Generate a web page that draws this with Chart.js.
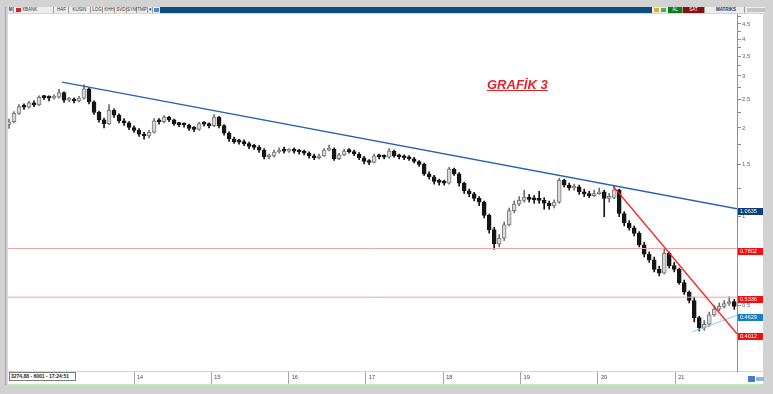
<html>
<head>
<style>
  html, body { margin: 0; width: 773px; height: 394px; overflow: hidden; background: #d2d2d2; font-family: "Liberation Sans", Arial, sans-serif; }
  .abs { position: absolute; }
  #panel { left: 7px; top: 13px; width: 757px; height: 372px; background: #fff; border: 1px solid #bfe8b8; box-sizing: border-box; }
  #head { left: 8px; top: 7px; width: 757px; height: 6px; background: #ececec; }
  .hb { position: absolute; top: 0; height: 6px; font-size: 4.5px; line-height: 6px; color: #333; border-right: 1px solid #9a9a9a; text-align: center; box-sizing: border-box; }
  #title { left: 487px; top: 77px; color: #e4232b; font: italic bold 13px "Liberation Sans", Arial, sans-serif; text-decoration: underline; z-index: 3; }
  #info { left: 9px; top: 372px; width: 67px; height: 9px; border: 1px solid #7a7a7a; box-sizing: border-box; font: bold 5px "Liberation Sans", Arial, sans-serif; line-height: 7px; padding-left: 1px; color: #222; z-index: 3; background: #fff; }
  canvas { position: absolute; left: 0; top: 0; z-index: 2; }
</style>
</head>
<body>
<div class="abs" style="left:5px;top:7px;width:1px;height:378px;background:#a8a8a8"></div>
<div id="panel" class="abs"></div>
<div class="abs" style="left:7px;top:371px;width:757px;height:1px;background:#bfe8b8"></div>
<div id="head" class="abs">
  <span class="hb" style="left:0;width:6px;color:#1b3f9a;font-weight:bold">M</span>
  <span class="hb" style="left:7px;width:39px;text-align:left;padding-left:7px">XBANK</span>
  <span class="abs" style="left:8px;top:1px;width:5px;height:4px;background:#d0202a"></span>
  <span class="hb" style="left:47px;width:14px">HAF</span>
  <span class="hb" style="left:61px;width:22px">KUSIN</span>
  <span class="hb" style="left:84px;width:11px">LOG</span>
  <span class="hb" style="left:96px;width:11px">KHH</span>
  <span class="hb" style="left:108px;width:11px">SVD</span>
  <span class="hb" style="left:119px;width:10px">SYM</span>
  <span class="hb" style="left:129px;width:11px">TMP</span>
  <span class="hb" style="left:140px;width:5px">▾</span>
  <span class="abs" style="left:146px;top:1px;width:5px;height:4px;background:#3a8fd6"></span>
  <span class="abs" style="left:152px;top:0;width:492px;height:6px;background:#0c4d83"></span>
  <span class="abs" style="left:646px;top:1px;width:5px;height:4px;background:#e0b020"></span>
  <span class="abs" style="left:653px;top:1px;width:5px;height:4px;background:#4caf50"></span>
  <span class="hb" style="left:660px;width:15px;background:#0e7a22;color:#fff">AL</span>
  <span class="hb" style="left:675px;width:22px;background:#8c0f0f;color:#fff">SAT</span>
  <span class="hb" style="left:700px;width:37px;color:#1c2f6e;font-weight:bold">MATRIKS</span>
  <span class="abs" style="left:739px;top:1px;width:18px;height:4px;background:#c4c4c4"></span>
</div>
<div id="title" class="abs">GRAFİK 3</div>
<div id="info" class="abs">3274,88 - 6001 - 17:24:51</div>
<div class="abs" style="left:748px;top:376px;width:7px;height:6px;background:#3d7fc8;z-index:3"></div>
<div class="abs" style="left:756px;top:377px;width:8px;height:4px;background:#8fb4e0;z-index:3"></div>

<canvas id="c" width="773" height="394"></canvas>

<script src="https://cdn.jsdelivr.net/npm/chart.js@4/dist/chart.umd.min.js"></script>
<script>
  // candle periods, from 2012 to late 2021 (decimal years)
  const firstPeriod = 12.383;
  const periodLength = 0.0647;
  const firstOpen = 2.05;

  const closes = [
    2.097, 2.240, 2.359, 2.352, 2.430, 2.394, 2.540, 2.532, 2.521, 2.540,
    2.635, 2.484, 2.503, 2.466, 2.521, 2.714, 2.448, 2.257, 2.128, 2.066,
    2.291, 2.208, 2.112, 2.081, 2.006, 1.962, 1.905, 1.877, 1.933, 2.112,
    2.097, 2.175, 2.128, 2.066, 2.051, 2.045, 1.991, 1.976, 2.066, 2.060,
    2.036, 2.175, 2.036, 1.919, 1.836, 1.796, 1.790, 1.769, 1.730, 1.718,
    1.680, 1.596, 1.607, 1.656, 1.680, 1.668, 1.680, 1.668, 1.656, 1.643,
    1.607, 1.584, 1.607, 1.680, 1.693, 1.572, 1.619, 1.668, 1.662, 1.631,
    1.584, 1.538, 1.526, 1.607, 1.596, 1.590, 1.668, 1.607, 1.596, 1.584,
    1.572, 1.538, 1.504, 1.397, 1.366, 1.317, 1.307, 1.300, 1.450, 1.397,
    1.298, 1.223, 1.196, 1.153, 1.120, 1.010, 0.904, 0.809, 0.846, 0.938,
    1.048, 1.103, 1.136, 1.162, 1.145, 1.140, 1.136, 1.111, 1.087, 1.120,
    1.327, 1.279, 1.251, 1.262, 1.214, 1.196, 1.179, 1.196, 1.214, 1.153,
    1.162, 1.232, 1.025, 0.952, 0.917, 0.878, 0.803, 0.746, 0.714, 0.663,
    0.644, 0.752, 0.683, 0.663, 0.598, 0.555, 0.520, 0.455, 0.420, 0.432,
    0.465, 0.486, 0.497, 0.508, 0.516, 0.497
  ];
  const highs = [
    2.14, 2.27, 2.40, 2.41, 2.46, 2.47, 2.57, 2.58, 2.57, 2.59,
    2.70, 2.65, 2.54, 2.53, 2.56, 2.80, 2.74, 2.47, 2.28, 2.16,
    2.40, 2.32, 2.23, 2.15, 2.10, 2.03, 1.99, 1.93, 1.96, 2.15,
    2.15, 2.20, 2.19, 2.14, 2.09, 2.08, 2.06, 2.02, 2.09, 2.10,
    2.08, 2.22, 2.19, 2.05, 1.94, 1.86, 1.83, 1.82, 1.79, 1.76,
    1.74, 1.70, 1.63, 1.68, 1.71, 1.72, 1.70, 1.71, 1.69, 1.68,
    1.66, 1.63, 1.63, 1.70, 1.75, 1.71, 1.64, 1.69, 1.70, 1.68,
    1.65, 1.60, 1.56, 1.63, 1.63, 1.62, 1.70, 1.68, 1.63, 1.62,
    1.61, 1.59, 1.55, 1.52, 1.42, 1.38, 1.34, 1.33, 1.47, 1.46,
    1.41, 1.31, 1.24, 1.21, 1.17, 1.13, 1.02, 0.92, 0.87, 0.96,
    1.07, 1.13, 1.17, 1.23, 1.19, 1.18, 1.22, 1.16, 1.13, 1.14,
    1.35, 1.34, 1.30, 1.29, 1.28, 1.24, 1.22, 1.23, 1.25, 1.23,
    1.20, 1.27, 1.24, 1.04, 0.97, 0.93, 0.89, 0.82, 0.76, 0.73,
    0.68, 0.78, 0.76, 0.70, 0.67, 0.61, 0.56, 0.534, 0.46, 0.445,
    0.475, 0.50, 0.51, 0.52, 0.535, 0.525
  ];
  const lows = [
    1.99, 2.08, 2.22, 2.31, 2.33, 2.36, 2.38, 2.49, 2.47, 2.50,
    2.52, 2.44, 2.45, 2.43, 2.45, 2.50, 2.41, 2.22, 2.09, 2.00,
    2.05, 2.17, 2.08, 2.04, 1.97, 1.93, 1.87, 1.83, 1.85, 1.92,
    2.06, 2.08, 2.10, 2.04, 2.02, 2.01, 1.96, 1.94, 1.96, 2.03,
    2.00, 2.02, 2.00, 1.89, 1.80, 1.77, 1.76, 1.74, 1.70, 1.69,
    1.65, 1.57, 1.57, 1.59, 1.64, 1.64, 1.65, 1.64, 1.63, 1.62,
    1.58, 1.56, 1.57, 1.60, 1.67, 1.55, 1.56, 1.61, 1.64, 1.61,
    1.56, 1.51, 1.50, 1.52, 1.57, 1.57, 1.58, 1.59, 1.57, 1.56,
    1.55, 1.52, 1.48, 1.38, 1.34, 1.29, 1.28, 1.28, 1.29, 1.38,
    1.27, 1.20, 1.17, 1.13, 1.09, 0.99, 0.88, 0.775, 0.79, 0.83,
    0.93, 1.03, 1.09, 1.12, 1.12, 1.11, 1.11, 1.06, 1.06, 1.07,
    1.11, 1.26, 1.23, 1.23, 1.19, 1.17, 1.16, 1.17, 1.19, 1.00,
    1.12, 1.15, 1.00, 0.93, 0.90, 0.86, 0.79, 0.73, 0.70, 0.65,
    0.63, 0.64, 0.67, 0.65, 0.59, 0.545, 0.51, 0.44, 0.41, 0.412,
    0.425, 0.46, 0.48, 0.49, 0.50, 0.485
  ];

  const yearTicks = [14, 15, 16, 17, 18, 19, 20, 21];
  const priceTicks = [0.5, 0.75, 1, 1.25, 1.5, 1.75, 2, 2.25, 2.5, 2.75, 3, 3.25, 3.5, 3.75, 4, 4.25, 4.5, 4.75];
  const priceLabels = [0.5, 1, 1.5, 2, 2.5, 3, 3.5, 4, 4.5];

  // drawn lines: [startYear, startPrice, endPrice]
  const longTrend = [13.069, 2.858, 1.0635];
  const shortTrend = [20.197, 1.269, 0.4012];
  const supportLine = [21.22, 0.407, 0.4629];
  const levels = [0.7802, 0.5336];
  const tagValues = [1.0635, 0.7802, 0.5336, 0.4629, 0.4012];

  const xMin = 12.37, xMax = 21.80;
  const yMin = 0.349, yMax = 4.862;

  const tagColors = ['#0d3f78', '#f01010', '#f01010', '#1580c4', '#f01010'];

  const times = closes.map((c, i) => firstPeriod + i * periodLength);
  const opens = closes.map((c, i) => i === 0 ? firstOpen : closes[i - 1]);
  const isDown = closes.map((c, i) => c < opens[i]);

  const bodies = closes.map((c, i) => ({ x: times[i], y: [opens[i], c] }));
  const wicks = closes.map((c, i) => ({ x: times[i], y: [lows[i], highs[i]] }));

  function segment(start, endX, color, width) {
    return {
      type: 'line',
      data: [{ x: start[0], y: start[1] }, { x: endX, y: start[2] }],
      borderColor: color, borderWidth: width, pointRadius: 0, order: 0
    };
  }

  const tagPlugin = {
    id: 'tags',
    afterDraw(chart) {
      const { ctx, scales: { y }, chartArea } = chart;
      ctx.save();
      tagValues.forEach((v, i) => {
        const py = Math.round(y.getPixelForValue(v));
        ctx.fillStyle = tagColors[i];
        ctx.fillRect(chartArea.right + 1, py - 1, 25, 7);
        ctx.fillStyle = '#fff';
        ctx.font = '5.5px "Liberation Sans", Arial, sans-serif';
        ctx.textBaseline = 'middle';
        ctx.fillText(v.toFixed(4), chartArea.right + 3, py + 2.5);
      });
      ctx.restore();
    }
  };

  new Chart(document.getElementById('c'), {
    type: 'bar',
    data: {
      datasets: [
        segment(longTrend, xMax, '#2763b0', 1.4),
        segment(shortTrend, xMax, '#ff1a1a', 1.4),
        segment(supportLine, xMax, '#86c9ee', 1),
        ...levels.map(v => ({
          type: 'line', data: [{ x: xMin, y: v }, { x: xMax, y: v }],
          borderColor: '#f2a3a3', borderWidth: 1, pointRadius: 0, order: 0
        })),
        {
          data: bodies, order: 1, grouped: false, barThickness: 4, minBarLength: 2,
          backgroundColor: isDown.map(d => d ? '#151515' : '#d8d8d8'),
          borderColor: isDown.map(d => d ? '#151515' : '#7a7a7a'),
          borderWidth: 1, borderSkipped: false
        },
        {
          data: wicks, order: 2, grouped: false, barThickness: 1,
          backgroundColor: isDown.map(d => d ? '#151515' : '#6e6e6e')
        }
      ]
    },
    options: {
      responsive: false,
      animation: false,
      layout: { padding: { left: 8, top: 14, right: 8, bottom: 10 } },
      plugins: { legend: { display: false }, tooltip: { enabled: false } },
      scales: {
        x: {
          type: 'linear', min: xMin, max: xMax, offset: false,
          afterBuildTicks: s => { s.ticks = yearTicks.map(v => ({ value: v })); },
          afterFit: s => { s.height = 13; },
          ticks: {
            align: 'start', padding: -10, maxRotation: 0, autoSkip: false,
            color: '#444', font: { size: 5.5, family: '"Liberation Sans", Arial' },
            callback: v => '  ' + v
          },
          grid: { offset: false, drawOnChartArea: false, tickLength: 13, color: '#a6a6a6' },
          border: { color: '#bfe8b8' }
        },
        y: {
          type: 'logarithmic', position: 'right', min: yMin, max: yMax,
          afterBuildTicks: s => { s.ticks = priceTicks.map(v => ({ value: v })); },
          afterFit: s => { s.width = 28; },
          ticks: {
            padding: 1, autoSkip: false, color: '#666',
            font: { size: 6, family: '"Liberation Sans", Arial' },
            callback: v => priceLabels.includes(v) ? String(v) : ''
          },
          grid: { drawOnChartArea: false, tickLength: 4, color: '#8c8c8c' },
          border: { color: '#8c8c8c' }
        }
      }
    },
    plugins: [tagPlugin]
  });
</script>
</body>
</html>
